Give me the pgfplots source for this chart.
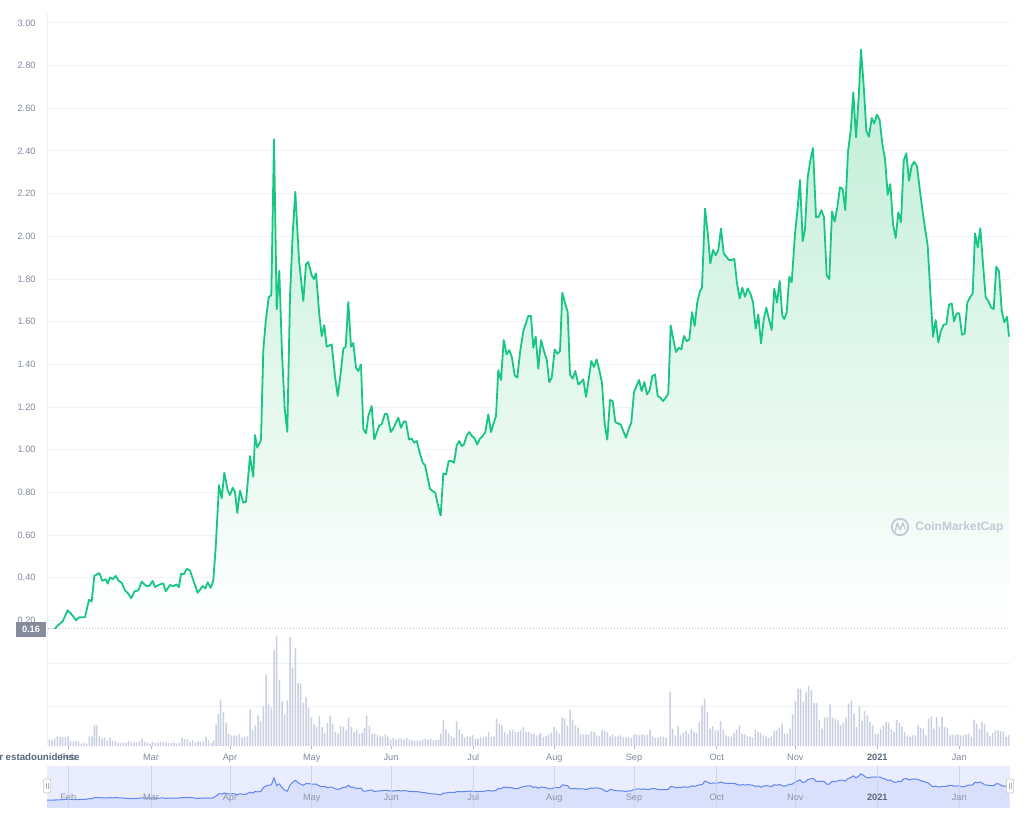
\documentclass[border=0pt]{standalone}
\usepackage{pgfplots}
\pgfplotsset{compat=1.18}
\usepackage{pgfplotstable}
\usetikzlibrary{calc}
\usepackage{fontspec}
\setmainfont{Liberation Sans}
\definecolor{cmcgreen}{HTML}{16C784}
\definecolor{cmcred}{HTML}{EA3943}
\definecolor{tickgray}{HTML}{808A9D}
\definecolor{dgray}{HTML}{58667E}
\definecolor{gridc}{HTML}{EFF2F5}
\definecolor{volbar}{HTML}{C9CFE0}
\definecolor{navband}{HTML}{E9EDFD}
\definecolor{navfill}{HTML}{D9E0FB}
\definecolor{navline}{HTML}{6286F2}
\definecolor{navgrid}{HTML}{CDD4EC}
\definecolor{filltop}{HTML}{BEEDD6}
\definecolor{fillbot}{HTML}{FFFFFF}
\definecolor{boxgray}{HTML}{868C9C}
\definecolor{wmark}{HTML}{C3C9D4}

\pgfplotstableread{
x y
46.7 0.164
51.7 0.140
56.7 0.172
62.7 0.196
67.7 0.248
72.3 0.225
76.0 0.201
79.3 0.215
85.0 0.215
89.0 0.297
91.7 0.289
94.3 0.409
99.3 0.422
102.3 0.386
105.7 0.393
107.7 0.373
110.0 0.401
112.7 0.393
115.7 0.409
118.7 0.385
121.7 0.377
125.0 0.341
128.3 0.325
131.3 0.304
134.3 0.336
138.3 0.341
141.7 0.382
146.0 0.362
149.3 0.362
152.7 0.385
155.0 0.357
160.0 0.369
163.3 0.374
165.7 0.337
170.0 0.366
173.3 0.361
176.7 0.369
179.0 0.356
181.0 0.419
184.0 0.417
186.7 0.442
190.0 0.434
194.0 0.379
197.7 0.330
202.7 0.361
205.3 0.350
207.7 0.379
210.7 0.353
213.3 0.387
215.7 0.543
219.0 0.834
221.7 0.772
224.3 0.893
227.7 0.809
230.0 0.788
232.7 0.822
235.0 0.801
237.3 0.704
240.0 0.809
243.3 0.752
246.0 0.756
250.0 0.970
253.3 0.873
255.0 1.069
257.3 1.010
261.0 1.045
263.3 1.467
265.7 1.600
268.7 1.714
271.3 1.725
274.0 2.455
276.7 1.658
279.3 1.839
282.0 1.452
284.7 1.194
287.3 1.084
290.0 1.717
292.7 2.014
295.3 2.209
299.0 1.890
303.3 1.697
306.0 1.870
308.3 1.880
311.7 1.817
314.0 1.800
316.0 1.827
319.3 1.634
321.7 1.533
324.3 1.584
326.7 1.483
331.7 1.494
335.0 1.345
337.7 1.252
340.7 1.360
343.3 1.473
345.7 1.483
348.3 1.692
351.0 1.483
353.3 1.500
356.0 1.384
358.3 1.369
361.0 1.400
363.3 1.098
366.0 1.077
368.3 1.158
371.7 1.205
374.3 1.048
376.7 1.080
379.3 1.114
381.7 1.120
385.0 1.169
387.3 1.166
390.7 1.083
393.3 1.100
396.0 1.127
398.3 1.150
401.0 1.103
404.0 1.134
406.0 1.130
409.0 1.048
411.7 1.052
414.3 1.033
416.7 1.041
419.3 0.994
422.7 0.939
425.0 0.927
427.3 0.877
430.0 0.817
432.7 0.806
435.3 0.798
438.0 0.739
440.7 0.692
443.3 0.889
446.0 0.884
448.7 0.947
451.7 0.947
454.0 0.939
456.7 1.020
459.3 1.041
461.7 1.017
464.0 1.025
466.7 1.067
469.3 1.083
472.0 1.064
474.3 1.056
477.3 1.025
480.0 1.052
482.7 1.064
485.3 1.083
488.3 1.166
491.0 1.083
493.3 1.119
496.0 1.158
498.3 1.373
501.0 1.327
503.7 1.514
506.7 1.447
509.3 1.467
512.0 1.431
514.7 1.348
517.3 1.338
520.0 1.455
523.3 1.556
528.3 1.627
531.0 1.627
533.3 1.478
535.7 1.530
538.3 1.380
541.0 1.514
544.0 1.462
546.7 1.423
549.3 1.317
551.7 1.337
554.7 1.470
557.3 1.450
560.0 1.462
562.3 1.736
565.0 1.689
567.7 1.645
570.0 1.353
572.7 1.333
575.3 1.369
578.3 1.306
581.0 1.317
583.3 1.330
586.0 1.248
588.7 1.330
591.3 1.416
594.0 1.388
596.7 1.423
599.3 1.373
602.0 1.314
604.7 1.119
607.3 1.048
610.0 1.233
612.7 1.228
615.3 1.130
618.0 1.123
620.7 1.119
623.3 1.088
626.0 1.056
628.7 1.098
631.3 1.127
634.0 1.270
636.7 1.302
639.0 1.327
641.7 1.275
644.3 1.317
647.0 1.259
649.7 1.280
652.3 1.345
655.0 1.353
657.7 1.252
660.3 1.244
663.0 1.228
665.7 1.244
668.3 1.263
670.7 1.583
673.3 1.517
676.0 1.458
678.7 1.478
681.3 1.470
684.0 1.533
686.7 1.509
689.3 1.517
692.0 1.645
694.7 1.580
697.3 1.692
700.0 1.744
702.0 1.759
705.0 2.130
707.7 2.017
710.3 1.873
713.0 1.936
715.7 1.911
718.3 1.936
721.0 2.036
723.7 1.920
726.3 1.905
729.0 1.889
731.7 1.889
734.3 1.895
737.0 1.780
739.7 1.709
742.3 1.759
745.0 1.717
747.7 1.756
750.3 1.733
753.0 1.692
755.7 1.567
758.3 1.634
761.0 1.498
763.7 1.611
766.3 1.666
769.0 1.611
771.7 1.561
774.3 1.755
777.0 1.689
779.7 1.791
782.3 1.628
784.3 1.613
786.7 1.644
789.3 1.811
791.7 1.784
795.0 2.011
797.7 2.136
800.0 2.264
802.7 1.977
805.0 2.034
807.7 2.277
810.3 2.355
813.0 2.414
816.0 2.089
818.7 2.092
821.3 2.123
824.0 2.089
826.7 1.816
829.3 1.800
832.0 2.117
834.7 2.069
837.3 2.136
840.0 2.230
842.7 2.222
845.3 2.123
848.0 2.398
850.7 2.495
853.3 2.675
856.0 2.464
858.7 2.652
861.0 2.875
863.7 2.706
866.3 2.495
869.0 2.467
871.7 2.555
874.3 2.530
877.0 2.570
879.7 2.545
882.3 2.433
885.0 2.363
887.7 2.195
890.3 2.245
893.0 2.058
895.7 1.992
898.3 2.113
901.0 2.066
903.7 2.355
906.3 2.389
909.0 2.261
911.7 2.331
914.3 2.350
917.0 2.327
919.7 2.222
922.3 2.128
925.0 2.039
927.7 1.956
930.3 1.742
933.0 1.530
935.7 1.608
938.3 1.503
941.0 1.558
943.7 1.586
946.3 1.589
949.0 1.680
951.7 1.686
954.0 1.602
956.7 1.639
959.3 1.639
962.0 1.539
964.7 1.545
967.3 1.689
970.0 1.714
972.7 1.733
975.0 2.014
977.7 1.948
980.3 2.038
983.0 1.870
985.7 1.714
988.3 1.698
991.0 1.667
993.7 1.659
996.3 1.858
999.0 1.836
1001.7 1.652
1004.3 1.597
1007.0 1.623
1009.0 1.530
}\pricedata

\pgfplotstableread{
X h
20 5.7
28 6.3
36 5.7
44 7.3
52 9.7
60 9
68 9
76 9
84 9.7
92 4.7
100 4.7
108 4.7
116 4
124 2.3
132 3
140 2.3
148 9.7
156 9.7
163 20.7
170 20.7
178 9.7
186 7.3
194 8.3
202 5.7
210 8.3
218 5
226 5
234 3.3
242 3.3
250 3.3
258 3.3
266 5
274 4
282 3.3
290 3.3
298 4.7
306 7.3
314 4
322 3.3
330 2.3
338 4
346 3.3
354 3.3
362 4
370 4
378 3.3
386 3
394 3
402 3.3
410 2.3
418 3
426 8.3
434 6.7
442 6.7
450 4
458 5.7
466 3.3
474 4.7
482 4
490 4.7
498 9
506 5.7
514 3
521 5.7
528 21.3
535 32.3
542 46.3
550 34
558 23.3
566 12.3
574 10.7
582 10.7
590 10.7
598 12.3
606 8.3
614 9
622 9.7
630 36.7
638 16.3
646 20.7
654 30.7
662 25
670 39.7
678 71.3
686 41.7
694 38.3
702 95.7
710 109.7
718 66.3
726 44.7
734 31.7
742 45.7
750 109
758 78.3
766 98.3
774 63
782 62.3
790 43
798 49
806 38.3
814 28.3
822 21.7
830 19
838 29.7
846 19
854 13
862 23
870 30.3
878 22.3
886 14
894 12.3
902 19.7
910 19
918 15.7
926 28
934 19
942 14
950 16.3
958 12.3
966 13
973 18.3
980 30.7
988 20
996 12.3
1004 12.3
1012 10.7
1020 9.7
1028 9.7
1036 11.7
1044 9.7
1052 6.3
1060 8
1068 6.3
1076 7.3
1084 7.3
1092 6.3
1100 8
1108 6.3
1116 5.7
1124 5
1132 5.7
1140 5
1148 6.3
1156 7.3
1164 6.3
1172 7.3
1180 5.7
1188 5.7
1196 6.3
1203 12.3
1210 25.7
1218 16.7
1226 13
1234 9.7
1242 8.3
1250 24.7
1258 16.7
1266 12.3
1274 8.3
1282 9.7
1290 9
1298 10.7
1306 7.3
1314 7.3
1322 8.3
1330 8.3
1338 9
1346 14
1354 9
1362 9.7
1370 27.3
1378 22.3
1386 20.7
1394 14
1402 11.7
1410 15.7
1418 16.3
1426 14
1434 14
1442 15.7
1450 19
1458 14
1466 14
1474 12.3
1482 12.3
1490 10.7
1498 11.3
}\volA

\pgfplotstableread{
X h
62 13
70 9
78 9.7
86 11.7
94 13
102 19
110 15
118 12.3
126 28.3
134 27.3
142 20
150 36.3
158 26.3
166 20.7
174 18.3
182 11.7
190 11.7
198 11.7
206 11.7
214 14.7
222 14
230 10.7
238 9.7
246 16.3
254 15
262 14
270 9.7
278 11.7
286 9.7
294 9.7
302 10.7
310 9
318 8.3
326 8.3
334 8.3
342 11.7
350 11.3
358 10.7
366 11.7
374 10.7
382 11.3
390 16.3
398 9.7
406 8.3
414 8.3
422 9.7
430 9
438 8.3
450 54
458 17.3
466 10.7
474 19.7
482 10.7
490 13
498 15
506 12.3
514 17.3
522 14
530 13
538 24
546 40.7
554 47.3
562 34
570 17.3
578 19.7
586 15.7
594 15.7
602 25
610 16.3
618 10.7
626 9.7
634 9.7
642 13
650 16.3
658 20.7
666 12.3
674 11.7
682 9.7
690 9
698 8.3
706 16.3
714 14
722 13
730 10.7
738 9.7
746 8.3
754 9.7
762 15
770 15.7
778 18.3
786 22.3
794 12.3
802 12.3
810 17.3
818 31.7
826 45
834 57.3
842 57.3
850 44
858 54
866 60
874 56.3
882 43
890 43
898 25.7
906 17.3
914 28.3
922 29
930 41.7
938 28.3
946 27.3
954 25.7
962 20.7
970 23
978 28.3
986 42.3
994 45.7
1002 32.3
1010 19
1018 39.7
1026 25
1034 34.7
1042 30.7
1050 24
1058 20.7
1066 12.3
1074 12.3
1082 17.3
1090 20.7
1098 24
1106 23
1114 16.7
1122 14
1130 26.3
1138 23
1146 19.7
1154 14
1162 10.7
1170 9
1178 10.7
1186 10.7
1194 20.7
1202 18.3
1210 17.3
1218 10.7
1226 27.3
1234 29.7
1242 17.3
1250 29
1258 19
1266 29
1274 19
1282 18.3
1290 10.7
1298 11.3
1306 10.7
1314 11.7
1322 10.7
1330 10.7
1338 11.7
1346 12.3
1354 9
1362 26.3
1370 22.3
1378 17.3
1386 24
1394 21.7
1402 14
1410 9.7
1418 13
1426 15.7
1434 15.7
1442 15
1450 14
1458 9
1466 10.7
}\volB

\newcommand{\tf}{\fontsize{4.6}{5.5}\selectfont}

\begin{document}
\begin{tikzpicture}
\clip (0,0) rectangle (512pt,409.5pt);
\fill[white] (0,0) rectangle (512pt,409.5pt);

% ---------- price ----------
\begin{axis}[
  at={(23.5pt,95pt)}, anchor=south west, scale only axis,
  width=481.5pt, height=308.35pt,
  xmin=47, xmax=1010, ymin=0.16, ymax=3.05,
  axis line style={draw=none},
  xtick=\empty,
  ytick={0.2,0.4,0.6,0.8,1,1.2,1.4,1.6,1.8,2,2.2,2.4,2.6,2.8,3},
  ymajorgrids, grid style={draw=gridc, line width=0.5pt},
  ytick style={draw=none},
  yticklabel style={font=\tf, text=tickgray, xshift=-2.2pt,
    /pgf/number format/fixed, /pgf/number format/fixed zerofill,
    /pgf/number format/precision=2, /pgf/number format/assume math mode=true},
]
\addplot[draw=none, top color=filltop, bottom color=fillbot] table[x=x,y=y]{\pricedata} \closedcycle;
\addplot[tickgray!55, densely dotted, line width=0.5pt] coordinates {(47,0.16) (1010,0.16)};
\addplot[cmcgreen, line width=0.9pt, line join=round] table[x=x,y=y]{\pricedata};
\addplot[cmcred, line width=0.9pt] coordinates {(46.7,0.164) (51.7,0.140)};
\end{axis}

% ---------- volume ----------
\begin{axis}[
  at={(23.5pt,36.5pt)}, anchor=south west, scale only axis,
  width=481.5pt, height=62.5pt,
  xmin=47, xmax=1010, ymin=0, ymax=125,
  axis line style={draw=none},
  ytick={39,82}, yticklabels={}, ytick style={draw=none},
  ymajorgrids, grid style={draw=gridc, line width=0.5pt},
  xtick={68.3,151,230,311.7,391,473.3,554.3,634,716.7,795.3,877.3,959.3},
  xticklabels={Feb,Mar,Apr,May,Jun,Jul,Aug,Sep,Oct,Nov,\textcolor{dgray}{\bfseries 2021},Jan},
  xtick pos=left, tick align=outside, major tick length=1.5pt,
  xtick style={draw=tickgray!60, line width=0.4pt},
  xticklabel style={font=\tf, text=tickgray, inner sep=0pt, yshift=-2pt, text height=3.4pt, text depth=0.9pt},
]
\addplot[ybar, bar width=0.75pt, bar shift=0pt, fill=volbar, draw=none] table[x expr=40+\thisrow{X}/3, y=h]{\volA};
\addplot[ybar, bar width=0.75pt, bar shift=0pt, fill=volbar, draw=none] table[x expr=520+\thisrow{X}/3, y=h]{\volB};
\end{axis}

% ---------- navigator ----------
\begin{axis}[
  at={(23.5pt,5.5pt)}, anchor=south west, scale only axis,
  width=481.5pt, height=21pt,
  xmin=47, xmax=1010, ymin=0, ymax=4.37,
  axis on top,
  axis line style={draw=none},
  axis background/.style={fill=navband},
  ytick=\empty,
  xtick={68.3,151,230,311.7,391,473.3,554.3,634,716.7,795.3,877.3,959.3},
  xticklabels={Feb,Mar,Apr,May,Jun,Jul,Aug,Sep,Oct,Nov,\textcolor{dgray}{\bfseries 2021},Jan},
  xmajorgrids, grid style={draw=navgrid, line width=0.35pt},
  xtick style={draw=none},
  xticklabel style={font=\tf, text=tickgray!90, anchor=base, inner sep=0pt, yshift=3.5pt},
]
\addplot[fill=navfill, draw=none] table[x=x, y expr=\thisrow{y}+0.67]{\pricedata} \closedcycle;
\addplot[navline, line width=0.5pt] table[x=x, y expr=\thisrow{y}+0.67]{\pricedata};
\end{axis}

% left faint axis line
\draw[gridc, line width=0.5pt] (23.5pt,403pt) -- (23.5pt,36.5pt);

% 0.16 current-price box
\fill[boxgray] (8pt,91pt) rectangle (23pt,98.5pt);
\node[text=white, font=\fontsize{4.6}{5.5}\selectfont\bfseries, inner sep=0pt] at (15.5pt,94.75pt) {0.16};

% currency label (cut at the left edge)
\node[anchor=base east, text=dgray, font=\fontsize{4.85}{6}\selectfont\bfseries, inner sep=0pt] at (40pt,29.3pt) {Dólar estadounidense};

% watermark
\draw[wmark, line width=0.9pt] (450pt,146pt) circle (4.1pt);
\draw[wmark, line width=0.7pt, line join=round, line cap=round]
  (447.6pt,143.9pt) -- (448.6pt,148pt) -- (450pt,144.6pt) -- (451.4pt,148pt) -- (452.6pt,145.2pt);
\node[anchor=west, text=wmark, font=\fontsize{6}{7}\selectfont\bfseries, inner sep=0pt] at (457.5pt,146pt) {CoinMarketCap};

% navigator handles
\foreach \hx in {23.5pt,505pt}{
  \draw[gray!45, fill=white, rounded corners=1pt, line width=0.3pt] ($(\hx,16.5pt)+(-1.8pt,-3.5pt)$) rectangle ($(\hx,16.5pt)+(1.8pt,3.5pt)$);
  \draw[gray!60, line width=0.25pt] ($(\hx,16.5pt)+(-0.5pt,-1.5pt)$) -- ++(0,3pt);
  \draw[gray!60, line width=0.25pt] ($(\hx,16.5pt)+(0.5pt,-1.5pt)$) -- ++(0,3pt);
}
\end{tikzpicture}
\end{document}
